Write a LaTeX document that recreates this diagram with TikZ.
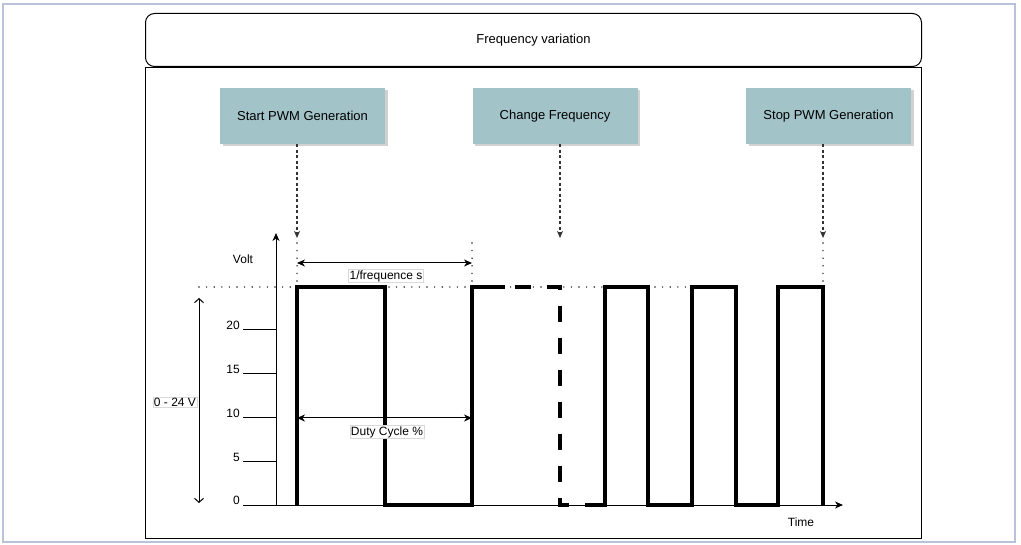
\documentclass[tikz,border=0pt]{standalone}
\usepackage{fontspec}
\setmainfont{Liberation Sans}
\usetikzlibrary{arrows.meta,shadows}
\definecolor{boxfill}{HTML}{A2C4C9}
\definecolor{framec}{RGB}{184,194,218}
\begin{document}
\begin{tikzpicture}[x=1pt,y=-1pt,
  evbox/.style={fill=boxfill,draw=none,minimum width=165pt,minimum height=56pt,inner sep=0pt,
    font=\fontsize{13}{15}\selectfont,
    drop shadow={shadow xshift=2.5pt,shadow yshift=-2.5pt,opacity=0.3,fill=black!60}},
  lbl/.style={font=\fontsize{12}{14}\selectfont,inner sep=1pt},
  tag/.style={lbl,fill=white,draw=black!15,line width=0.4pt},
  thinl/.style={line width=1pt,black},
  evarrow/.style={line width=1.2pt,black!80,dash pattern=on 3pt off 2.5pt,
    -{Stealth[length=7pt,width=6pt,inset=2pt]}},
  dotl/.style={line width=1.6pt,black!85,line cap=round,dash pattern=on 0pt off 7.6pt},
  dimarrow/.style={line width=1pt,{Stealth[length=8pt,width=7pt,inset=2.5pt]}-{Stealth[length=8pt,width=7pt,inset=2.5pt]}},
  wave/.style={line width=4.2pt,black,line join=miter},
  wavedash/.style={wave,dash pattern=on 16pt off 16pt}
]
\useasboundingbox (0,0) rectangle (1021,545);
% outer frame
\draw[framec,line width=1.5pt] (3,4) rectangle (1015,542);
% title and main boxes
\node[draw,line width=1pt,rounded corners=9pt,minimum width=776pt,minimum height=53pt,
  font=\fontsize{13}{15}\selectfont,anchor=north west] (title) at (145,13) {Frequency variation};
\node[draw,line width=1.2pt,minimum width=776pt,minimum height=471pt,anchor=north west,inner sep=0pt] (main) at (145,67) {};
% event boxes
\node[evbox] (start) at (302.5,116) {Start PWM Generation};
\node[evbox] (chg) at (555,116) {Change Frequency};
\node[evbox] (stop) at (828.5,116) {Stop PWM Generation};
% arrow end coordinates
\coordinate (ta) at (297,238);
\coordinate (tb) at (560,238);
\coordinate (tc) at (823,238);
\draw[evarrow] (start.south -| ta) -- (ta);
\draw[evarrow] (chg.south -| tb) -- (tb);
\draw[evarrow] (stop.south -| tc) -- (tc);
% dotted guides
\draw[dotl] (297,243) -- (297,287);
\draw[dotl] (472,243) -- (472,287);
\draw[dotl] (823,243) -- (823,287);
\draw[dotl] (199,287) -- (692,287);
% axes
\coordinate (O) at (276,505);
\coordinate (ytop) at (276,233);
\coordinate (xl) at (243,505);
\coordinate (xr) at (843,505);
\draw[thinl,-{Stealth[length=8pt,width=7pt,inset=2.5pt]}] (O) -- (ytop);
\draw[thinl,-{Stealth[length=8pt,width=7pt,inset=2.5pt]}] (xl) -- (xr);
\node[lbl] (volt) at (243,259) {Volt};
\node[lbl] (time) at (801,522) {Time};
% ticks
\draw[thinl] (243,330) -- (276,330);
\draw[thinl] (243,374) -- (276,374);
\draw[thinl] (243,418) -- (276,418);
\draw[thinl] (243,462) -- (276,462);
\node[lbl,anchor=east] (t20) at (241,325) {20};
\node[lbl,anchor=east] (t15) at (241,369) {15};
\node[lbl,anchor=east] (t10) at (241,413) {10};
\node[lbl,anchor=east] (t5) at (241,457) {5};
\node[lbl,anchor=east] (t0) at (241,500) {0};
% range arrow
\coordinate (ra) at (199,298);
\coordinate (rb) at (199,503);
\draw[line width=1pt,{Straight Barb[length=4pt,width=9pt]}-{Straight Barb[length=4pt,width=9pt]}] (ra) -- (rb);
\node[tag] (range) at (175,402) {0 - 24 V};
% waveform
\draw[wave] (297,505) -- (297,287) -- (385,287) -- (385,505) -- (472,505) -- (472,287) -- (505,287);
\draw[wavedash] (515,287) -- (560,287) -- (560,505) -- (588,505);
\draw[wave] (588,505) -- (605,505) -- (605,287) -- (648,287) -- (648,505) -- (692,505) -- (692,287)
  -- (736,287) -- (736,505) -- (778,505) -- (778,287) -- (823,287) -- (823,505);
% dimension arrows
\coordinate (fa) at (297,263);
\coordinate (fb) at (472,263);
\draw[dimarrow] (fa) -- (fb);
\node[tag] (freq) at (386,276) {1/frequence s};
\coordinate (da) at (297,418);
\coordinate (db) at (472,418);
\draw[dimarrow] (da) -- (db);
\node[tag] (duty) at (387,432) {Duty Cycle \%};
\end{tikzpicture}
\end{document}
